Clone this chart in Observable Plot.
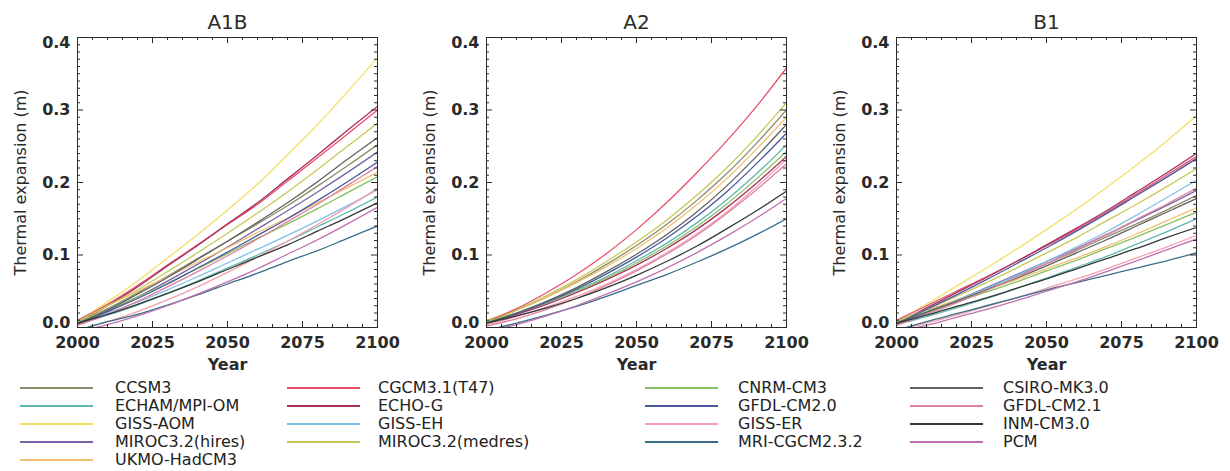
<!DOCTYPE html>
<html>
<head>
<meta charset="utf-8">
<script src="https://cdn.jsdelivr.net/npm/d3@7"></script>
<script src="https://cdn.jsdelivr.net/npm/@observablehq/plot@0.6"></script>
<style>
  html, body { margin: 0; padding: 0; background: #fff; }
  #root { position: relative; width: 1230px; height: 471px; overflow: hidden; background: #fff; font-family: "DejaVu Sans", sans-serif; color: #222; }
  .panel { position: absolute; top: 0; }
  .leg-line { position: absolute; height: 2px; }
  .leg-text { position: absolute; font-size: 16px; line-height: 16px; white-space: nowrap; color: #222; }
</style>
</head>
<body>
<div id="root"></div>
<script>
// ---------- data ----------
const years = [2000, 2010, 2020, 2030, 2040, 2050, 2060, 2070, 2080, 2090, 2100];
const xTicks = [2000, 2025, 2050, 2075, 2100];
const yTicks = [0.0, 0.1, 0.2, 0.3, 0.4];
const yLabel = "Thermal expansion (m)";
const xLabel = "Year";
const scenarios = ["A1B", "A2", "B1"];

const models = ["CCSM3", "ECHAM/MPI-OM", "GISS-AOM", "MIROC3.2(hires)", "UKMO-HadCM3",
  "CGCM3.1(T47)", "ECHO-G", "GISS-EH", "MIROC3.2(medres)",
  "CNRM-CM3", "GFDL-CM2.0", "GISS-ER", "MRI-CGCM2.3.2",
  "CSIRO-MK3.0", "GFDL-CM2.1", "INM-CM3.0", "PCM"];
const modelColors = ["#8e8c6a", "#5fb8b0", "#f2e060", "#7a62a8", "#f0c070",
  "#e8506a", "#a83060", "#80c0e8", "#c8c858",
  "#88c060", "#4858a0", "#f4a0b0", "#3a6e88",
  "#606060", "#e080a0", "#303838", "#c070b0"];
const legendColumnSizes = [5, 4, 4, 4];

// A1B (all models, legend order)
const a1bModels = models;
const a1bValues = [
  [0.006, 0.026, 0.048, 0.071, 0.095, 0.119, 0.143, 0.168, 0.195, 0.223, 0.252],
  [0.004, 0.017, 0.031, 0.047, 0.064, 0.082, 0.100, 0.119, 0.139, 0.159, 0.180],
  [0.008, 0.035, 0.064, 0.096, 0.128, 0.162, 0.198, 0.238, 0.280, 0.325, 0.372],
  [0.004, 0.022, 0.042, 0.064, 0.087, 0.111, 0.136, 0.161, 0.187, 0.214, 0.242],
  [0.010, 0.030, 0.050, 0.070, 0.090, 0.110, 0.131, 0.151, 0.172, 0.193, 0.214],
  [0.010, 0.032, 0.058, 0.086, 0.114, 0.142, 0.170, 0.202, 0.234, 0.267, 0.300],
  [0.006, 0.030, 0.056, 0.085, 0.113, 0.143, 0.172, 0.205, 0.238, 0.272, 0.305],
  [0.006, 0.020, 0.035, 0.052, 0.070, 0.089, 0.108, 0.127, 0.147, 0.168, 0.190],
  [0.008, 0.030, 0.052, 0.077, 0.103, 0.130, 0.158, 0.187, 0.218, 0.250, 0.282],
  [0.008, 0.024, 0.042, 0.061, 0.081, 0.102, 0.123, 0.143, 0.164, 0.186, 0.208],
  [0.005, 0.022, 0.040, 0.060, 0.082, 0.104, 0.127, 0.150, 0.175, 0.201, 0.228],
  [-0.004, 0.008, 0.022, 0.038, 0.056, 0.076, 0.097, 0.119, 0.142, 0.166, 0.192],
  [-0.004, 0.008, 0.018, 0.031, 0.045, 0.060, 0.075, 0.091, 0.106, 0.123, 0.140],
  [0.005, 0.024, 0.046, 0.069, 0.094, 0.119, 0.145, 0.172, 0.201, 0.232, 0.262],
  [0.003, 0.018, 0.036, 0.056, 0.077, 0.099, 0.122, 0.146, 0.170, 0.196, 0.222],
  [0.006, 0.018, 0.032, 0.047, 0.063, 0.080, 0.097, 0.114, 0.133, 0.152, 0.172],
  [-0.006, 0.004, 0.016, 0.030, 0.046, 0.063, 0.081, 0.101, 0.121, 0.143, 0.166]
];

// A2
const a2Models = ["CCSM3", "ECHAM/MPI-OM", "UKMO-HadCM3", "CGCM3.1(T47)", "ECHO-G", "MIROC3.2(medres)",
  "CNRM-CM3", "GFDL-CM2.0", "GISS-ER", "MRI-CGCM2.3.2", "CSIRO-MK3.0", "GFDL-CM2.1", "INM-CM3.0", "PCM"];
const a2Values = [
  [0.008, 0.024, 0.042, 0.063, 0.087, 0.113, 0.142, 0.175, 0.212, 0.254, 0.300],
  [0.006, 0.019, 0.034, 0.051, 0.070, 0.092, 0.116, 0.144, 0.176, 0.212, 0.252],
  [0.010, 0.025, 0.042, 0.062, 0.084, 0.109, 0.137, 0.169, 0.205, 0.246, 0.290],
  [0.008, 0.026, 0.048, 0.073, 0.102, 0.135, 0.172, 0.213, 0.257, 0.305, 0.358],
  [0.006, 0.018, 0.032, 0.048, 0.066, 0.086, 0.109, 0.135, 0.165, 0.199, 0.236],
  [0.006, 0.024, 0.044, 0.066, 0.091, 0.118, 0.148, 0.182, 0.220, 0.263, 0.310],
  [0.008, 0.020, 0.034, 0.050, 0.068, 0.089, 0.112, 0.139, 0.170, 0.205, 0.243],
  [0.005, 0.019, 0.035, 0.053, 0.074, 0.097, 0.123, 0.153, 0.187, 0.226, 0.268],
  [0.004, 0.015, 0.028, 0.043, 0.060, 0.080, 0.103, 0.129, 0.159, 0.194, 0.232],
  [-0.004, 0.006, 0.017, 0.029, 0.043, 0.058, 0.073, 0.090, 0.108, 0.128, 0.150],
  [0.006, 0.020, 0.036, 0.055, 0.077, 0.101, 0.128, 0.159, 0.195, 0.236, 0.280],
  [0.002, 0.012, 0.025, 0.040, 0.058, 0.078, 0.101, 0.127, 0.157, 0.190, 0.226],
  [0.006, 0.016, 0.027, 0.040, 0.055, 0.072, 0.091, 0.112, 0.136, 0.161, 0.188],
  [-0.006, 0.004, 0.016, 0.030, 0.046, 0.063, 0.082, 0.103, 0.126, 0.151, 0.178]
];

// B1 (all models, legend order)
const b1Models = models;
const b1Values = [
  [0.006, 0.022, 0.038, 0.054, 0.071, 0.088, 0.106, 0.125, 0.143, 0.162, 0.182],
  [0.004, 0.015, 0.027, 0.040, 0.054, 0.068, 0.083, 0.098, 0.115, 0.132, 0.150],
  [0.008, 0.032, 0.057, 0.082, 0.108, 0.135, 0.163, 0.193, 0.224, 0.257, 0.292],
  [0.004, 0.020, 0.037, 0.055, 0.073, 0.091, 0.109, 0.128, 0.148, 0.168, 0.189],
  [0.010, 0.024, 0.038, 0.052, 0.066, 0.081, 0.096, 0.112, 0.129, 0.147, 0.165],
  [0.010, 0.030, 0.050, 0.070, 0.091, 0.113, 0.135, 0.159, 0.184, 0.210, 0.236],
  [0.006, 0.027, 0.048, 0.069, 0.091, 0.114, 0.137, 0.161, 0.187, 0.213, 0.240],
  [0.006, 0.021, 0.037, 0.054, 0.072, 0.091, 0.111, 0.132, 0.155, 0.179, 0.203],
  [0.008, 0.025, 0.043, 0.062, 0.082, 0.103, 0.124, 0.147, 0.170, 0.194, 0.219],
  [0.008, 0.021, 0.035, 0.049, 0.063, 0.078, 0.093, 0.109, 0.125, 0.142, 0.159],
  [0.005, 0.025, 0.045, 0.066, 0.088, 0.110, 0.133, 0.157, 0.182, 0.207, 0.233],
  [-0.004, 0.006, 0.017, 0.029, 0.041, 0.054, 0.067, 0.081, 0.096, 0.111, 0.127],
  [-0.004, 0.008, 0.019, 0.030, 0.041, 0.052, 0.062, 0.072, 0.082, 0.092, 0.103],
  [0.006, 0.021, 0.036, 0.052, 0.068, 0.085, 0.103, 0.121, 0.140, 0.159, 0.178],
  [0.003, 0.018, 0.034, 0.051, 0.069, 0.088, 0.108, 0.128, 0.149, 0.170, 0.192],
  [0.006, 0.017, 0.029, 0.041, 0.054, 0.067, 0.081, 0.095, 0.109, 0.124, 0.138],
  [-0.006, 0.003, 0.014, 0.025, 0.037, 0.050, 0.063, 0.077, 0.092, 0.107, 0.122]
];

// ---------- drawing ----------
const W = 410, H = 375, ML = 77, MR = 33, MT = 37, MB = 48;
const FW = W - ML - MR, FH = H - MT - MB;
const xMinor = d3.range(2000, 2101, 5).filter(d => d % 25 !== 0);
const yMinor = d3.range(1, 40).map(i => i / 100).filter((d, i) => (i + 1) % 10 !== 0);
const ink = "#2a2a2a";
const yInner = yTicks.slice(1, -1), yFirst = yTicks.slice(0, 1), yLast = yTicks.slice(-1);
const tickText = {tickSize: 0, tickPadding: 7, tickFormat: d => d.toFixed(1), fontWeight: "bold", fontSize: 16, label: null};

function panel(title, names, values) {
  const data = names.flatMap((m, i) => years.map((yr, j) => ({model: m, year: yr, value: values[i][j]})));
  return Plot.plot({
    width: W, height: H,
    marginLeft: ML, marginRight: MR, marginTop: MT, marginBottom: MB,
    x: {domain: [2000, 2100]},
    y: {domain: [0, 0.4]},
    color: {domain: models, range: modelColors},
    style: {fontFamily: "DejaVu Sans", fontSize: "16px", color: ink, background: "transparent", overflow: "visible"},
    marks: [
      Plot.line(data, {x: "year", y: "value", z: "model", stroke: "model", strokeWidth: 1.3, curve: "monotone-x", clip: true}),
      Plot.frame({stroke: ink, strokeWidth: 1}),
      // inward ticks on all four sides
      Plot.tickY(yTicks, {y: d => d, insetRight: FW - 6, stroke: ink}),
      Plot.tickY(yTicks, {y: d => d, insetLeft: FW - 6, stroke: ink}),
      Plot.tickY(yMinor, {y: d => d, insetRight: FW - 3, stroke: ink}),
      Plot.tickY(yMinor, {y: d => d, insetLeft: FW - 3, stroke: ink}),
      Plot.tickX(xTicks, {x: d => d, insetTop: FH - 6, stroke: ink}),
      Plot.tickX(xTicks, {x: d => d, insetBottom: FH - 6, stroke: ink}),
      Plot.tickX(xMinor, {x: d => d, insetTop: FH - 3, stroke: ink}),
      Plot.tickX(xMinor, {x: d => d, insetBottom: FH - 3, stroke: ink}),
      Plot.axisY(yInner, tickText),
      Plot.axisY(yFirst, {...tickText, dy: -5}),
      Plot.axisY(yLast, {...tickText, dy: 5}),
      Plot.axisX(xTicks, {tickSize: 0, tickPadding: 9, tickFormat: d => String(d), fontWeight: "bold", fontSize: 16, label: null}),
      Plot.text([title], {text: d => d, frameAnchor: "top", lineAnchor: "middle", dy: -15, fontSize: 20, fill: ink}),
      Plot.text([yLabel], {text: d => d, frameAnchor: "left", textAnchor: "middle", lineAnchor: "middle", dx: -57, rotate: -90, fontSize: 16, fill: ink}),
      Plot.text([xLabel], {text: d => d, frameAnchor: "bottom", lineAnchor: "middle", dy: 37, fontSize: 16, fontWeight: "bold", fill: ink})
    ]
  });
}

const root = document.getElementById("root");
const panelData = [[a1bModels, a1bValues], [a2Models, a2Values], [b1Models, b1Values]];
const panelLefts = [0, 409, 819];
scenarios.forEach((s, k) => {
  const wrap = document.createElement("div");
  wrap.className = "panel";
  wrap.style.left = panelLefts[k] + "px";
  wrap.appendChild(panel(s, panelData[k][0], panelData[k][1]));
  root.appendChild(wrap);
});

// legend
const colLineX = [20, 287, 645, 910];
const colTextX = [115, 378, 738, 1003];
const rowY0 = 388, rowStep = 18, lineW = 73;
let idx = 0;
legendColumnSizes.forEach((n, c) => {
  for (let r = 0; r < n; r++, idx++) {
    const cy = rowY0 + r * rowStep;
    const ln = document.createElement("div");
    ln.className = "leg-line";
    ln.style.left = colLineX[c] + "px";
    ln.style.width = lineW + "px";
    ln.style.top = (cy - 1) + "px";
    ln.style.background = modelColors[idx];
    root.appendChild(ln);
    const tx = document.createElement("div");
    tx.className = "leg-text";
    tx.style.left = colTextX[c] + "px";
    tx.style.top = (cy - 8) + "px";
    tx.textContent = models[idx];
    root.appendChild(tx);
  }
});
</script>
</body>
</html>
